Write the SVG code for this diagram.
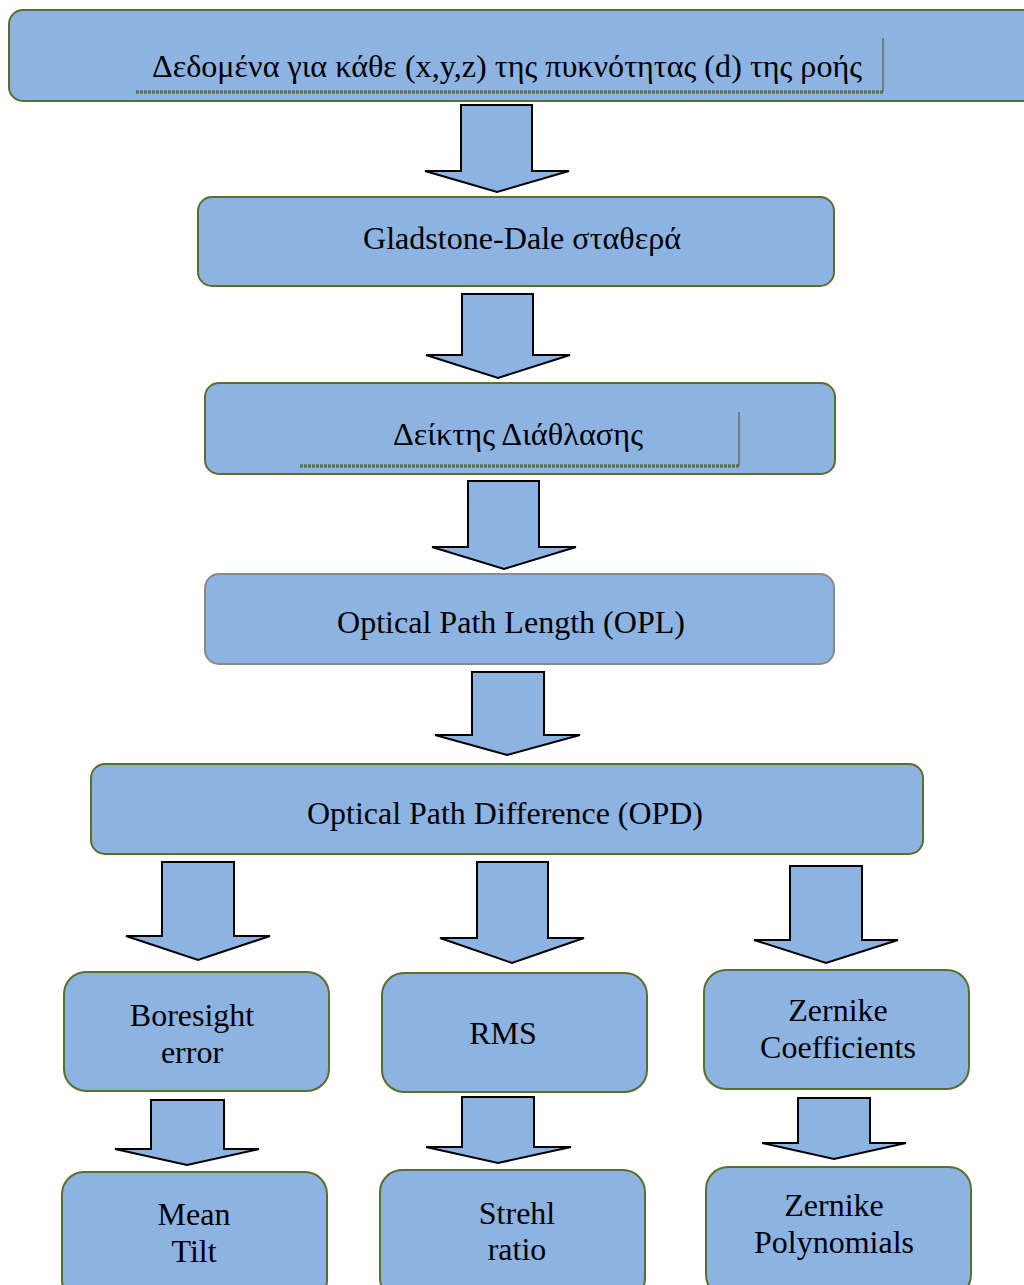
<svg xmlns="http://www.w3.org/2000/svg" width="1024" height="1285" viewBox="0 0 1024 1285">
<style>
.box{fill:#8db3e2;stroke:#5b6e2c;stroke-width:2}
.gray{stroke:#8a8a8a}
.arr{fill:#8db3e2;stroke:#000;stroke-width:2;stroke-linejoin:miter}
.t{font-family:"Liberation Serif","DejaVu Serif","Times New Roman",serif;font-size:32px;fill:#000;text-anchor:middle}
.ul{stroke:#5f7355;stroke-width:3.5;stroke-dasharray:3 1}
.vl{stroke:#5f7355;stroke-width:1.5}
</style>
<rect width="1024" height="1285" fill="#fff"/>
<g id="connectors">
<polygon class="arr" points="461,105 532,105 532,171 569,171 497,192 425,171 461,171"/>
<polygon class="arr" points="462,294 533,294 533,355 570,355 498,378 426,355 462,355"/>
<polygon class="arr" points="468,481 539,481 539,547 576,547 504,569 432,547 468,547"/>
<polygon class="arr" points="472,672 544,672 544,735 580,735 507,755 435,735 472,735"/>
<polygon class="arr" points="162,862 234,862 234,936 270,936 198,960 126,936 162,936"/>
<polygon class="arr" points="477,862 548,862 548,938 584,938 512,963 440,938 477,938"/>
<polygon class="arr" points="790,866 862,866 862,940 898,940 826,963 754,940 790,940"/>
<polygon class="arr" points="151,1100 224,1100 224,1149 259,1149 187,1165 115,1149 151,1149"/>
<polygon class="arr" points="462,1097 534,1097 534,1147 571,1147 498,1163 426,1147 462,1147"/>
<polygon class="arr" points="798,1098 870,1098 870,1143 906,1143 834,1159 762,1143 798,1143"/>
</g>
<g id="n1">
<rect class="box" x="9" y="10" width="1040" height="91" rx="14"/>
<line class="ul" x1="136" y1="92" x2="884" y2="92"/>
<line class="vl" x1="883" y1="38" x2="883" y2="92"/>
<text class="t" x="507" y="77" textLength="710" lengthAdjust="spacingAndGlyphs">Δεδομένα για κάθε (x,y,z) της πυκνότητας (d) της ροής</text>
</g>
<g id="n2">
<rect class="box" x="198" y="197" width="636" height="89" rx="14"/>
<text class="t" x="522" y="249" textLength="318" lengthAdjust="spacingAndGlyphs">Gladstone-Dale σταθερά</text>
</g>
<g id="n3">
<rect class="box" x="205" y="383" width="630" height="91" rx="14"/>
<line class="ul" x1="300" y1="466" x2="740" y2="466"/>
<line class="vl" x1="739" y1="412" x2="739" y2="466"/>
<text class="t" x="518" y="445" textLength="250" lengthAdjust="spacingAndGlyphs">Δείκτης Διάθλασης</text>
</g>
<g id="n4">
<rect class="box gray" x="205" y="574" width="629" height="90" rx="14"/>
<text class="t" x="511" y="633" textLength="348" lengthAdjust="spacingAndGlyphs">Optical Path Length (OPL)</text>
</g>
<g id="n5">
<rect class="box" x="91" y="764" width="832" height="90" rx="14"/>
<text class="t" x="505" y="824" textLength="396" lengthAdjust="spacingAndGlyphs">Optical Path Difference (OPD)</text>
</g>
<g id="n6">
<rect class="box" x="64" y="972" width="265" height="119" rx="22"/>
<text class="t" x="192" y="1026">Boresight</text>
<text class="t" x="192" y="1063">error</text>
</g>
<g id="n7">
<rect class="box" x="382" y="973" width="265" height="119" rx="22"/>
<text class="t" x="503" y="1044">RMS</text>
</g>
<g id="n8">
<rect class="box" x="704" y="970" width="265" height="119" rx="22"/>
<text class="t" x="838" y="1021">Zernike</text>
<text class="t" x="838" y="1058">Coefficients</text>
</g>
<g id="n9">
<rect class="box" x="62" y="1172" width="265" height="130" rx="22"/>
<text class="t" x="194" y="1225">Mean</text>
<text class="t" x="194" y="1262">Tilt</text>
</g>
<g id="n10">
<rect class="box" x="380" y="1170" width="265" height="130" rx="22"/>
<text class="t" x="517" y="1224">Strehl</text>
<text class="t" x="517" y="1260">ratio</text>
</g>
<g id="n11">
<rect class="box" x="706" y="1167" width="265" height="130" rx="22"/>
<text class="t" x="834" y="1216">Zernike</text>
<text class="t" x="834" y="1253">Polynomials</text>
</g>
</svg>
